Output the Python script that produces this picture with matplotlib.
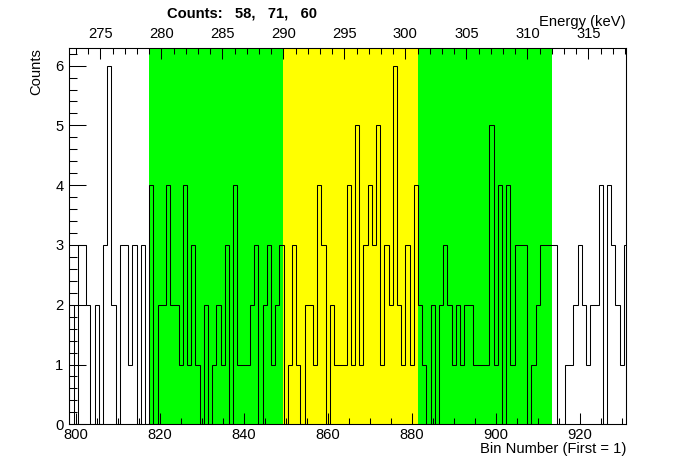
import numpy as np
import matplotlib
matplotlib.use('Agg')
from matplotlib import pyplot as plt
from matplotlib.ticker import MultipleLocator

plt.rcParams['font.family'] = ['Liberation Sans', 'DejaVu Sans']
plt.rcParams['font.size'] = 10.6

# counts per bin, first bin centre is 799
first_bin = 799
counts = [
    2, 0, 3, 3, 2, 0, 2, 0, 3, 6,   # 799-808
    2, 0, 3, 3, 1, 3, 0, 3, 0, 4,   # 809-818
    0, 2, 2, 4, 2, 2, 1, 4, 1, 3,   # 819-828
    1, 0, 2, 0, 1, 2, 1, 3, 0, 4,   # 829-838
    1, 1, 1, 2, 3, 0, 2, 3, 1, 2,   # 839-848
    3, 0, 1, 3, 1, 0, 2, 2, 1, 4,   # 849-858
    3, 0, 2, 1, 1, 1, 4, 1, 5, 1,   # 859-868
    3, 4, 3, 5, 1, 3, 2, 6, 2, 1,   # 869-878
    3, 1, 4, 2, 1, 0, 2, 0, 2, 3,   # 879-888
    2, 1, 2, 1, 2, 2, 1, 1, 1, 1,   # 889-898
    5, 1, 4, 0, 4, 1, 3, 3, 3, 0,   # 899-908
    1, 2, 3, 3, 3, 3, 0, 0, 1, 1,   # 909-918
    2, 3, 2, 1, 2, 2, 4, 0, 4, 3,   # 919-928
    2, 1, 3,                        # 929-931
]

# energy calibration
kev_at_800 = 272.98
kev_per_bin = 0.3443

# integration regions in keV and their colours
region_kev = [279, 290, 301, 312]
region_colors = ['#00ff00', '#ffff00', '#00ff00']


def bin_to_kev(b):
    return kev_at_800 + kev_per_bin * (b - 800)


def kev_to_bin(e):
    return 800 + (e - kev_at_800) / kev_per_bin


def main():
    counts_arr = np.array(counts)
    centres = first_bin + np.arange(len(counts_arr))
    edges = np.arange(first_bin - 0.5, first_bin + len(counts_arr))

    fig = plt.figure(figsize=(6.96, 4.72), dpi=100)
    ax = fig.add_axes([69 / 696, 1 - 424.3 / 472, 557 / 696, 376.6 / 472])

    sums = []
    for i, c in enumerate(region_colors):
        lo = kev_to_bin(region_kev[i])
        hi = kev_to_bin(region_kev[i + 1])
        ax.axvspan(lo, hi, color=c, lw=0, zorder=0)
        sums.append(counts_arr[(centres >= lo) & (centres < hi)].sum())

    ax.stairs(counts_arr, edges, baseline=0, color='black', linewidth=0.75, zorder=2)

    xlim = (798.4, 931.0)
    ax.set_xlim(xlim)
    ax.set_ylim(0, 6.3)
    ax.xaxis.set_major_locator(MultipleLocator(20))
    ax.xaxis.set_minor_locator(MultipleLocator(5))
    ax.yaxis.set_major_locator(MultipleLocator(1))
    ax.yaxis.set_minor_locator(MultipleLocator(0.2))
    ax.tick_params(axis='x', which='major', direction='in', length=8, width=0.75, pad=3)
    ax.tick_params(axis='x', which='minor', direction='in', length=4, width=0.75)
    ax.tick_params(axis='y', which='major', direction='in', length=12, width=0.75, pad=4)
    ax.tick_params(axis='y', which='minor', direction='in', length=6, width=0.75)
    for s in ax.spines.values():
        s.set_linewidth(0.75)

    ax.set_xlabel('Bin Number (First = 1)', loc='right')
    ax.xaxis.set_label_coords(1.0, -0.048)
    ax.set_ylabel('Counts', loc='top')
    ax.yaxis.set_label_coords(-0.047, 1.0)

    # energy axis on top
    ax2 = ax.twiny()
    ax2.set_xlim(bin_to_kev(xlim[0]), bin_to_kev(xlim[1]))
    ax2.xaxis.set_major_locator(MultipleLocator(5))
    ax2.xaxis.set_minor_locator(MultipleLocator(1))
    ax2.tick_params(axis='x', which='major', direction='in', length=8, width=0.75, pad=5)
    ax2.tick_params(axis='x', which='minor', direction='in', length=4, width=0.75)
    for s in ax2.spines.values():
        s.set_linewidth(0.75)
    ax2.set_xlabel('Energy (keV)', loc='right')
    ax2.xaxis.set_label_coords(1.0, 1.058)

    title = 'Counts: %4d, %4d, %4d' % tuple(sums)
    fig.text(167 / 696, 1 - 14 / 472, title, fontweight='bold', ha='left', va='center')

    fig.savefig('out.png', dpi=100)


if __name__ == '__main__':
    main()
